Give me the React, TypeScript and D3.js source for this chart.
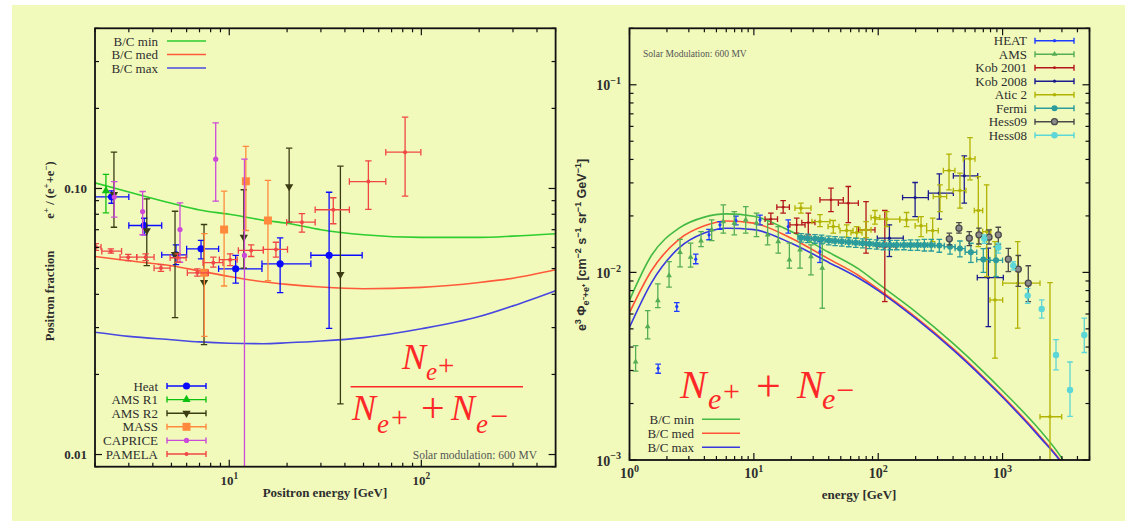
import React from 'react';
import * as d3 from 'd3';

// rows: [energy, value, energy low, energy high, value low, value high]
// energy low/high = null -> no horizontal bar

// ---------- left panel : positron fraction ----------
const fracModelE = [2, 3, 5, 7, 10, 15, 20, 30, 50, 100, 200, 300, 500];
const fracMin = [0.105, 0.097, 0.088, 0.083, 0.08, 0.076, 0.074, 0.07, 0.067, 0.0655, 0.0655, 0.0662, 0.0676];
const fracMed = [0.0555, 0.0535, 0.0512, 0.049, 0.0467, 0.0446, 0.0436, 0.0426, 0.042, 0.0425, 0.0443, 0.046, 0.0495];
const fracMax = [0.0288, 0.0278, 0.027, 0.0265, 0.0262, 0.0261, 0.0263, 0.0267, 0.0275, 0.0297, 0.033, 0.0362, 0.0413];

const heatFrac = [
  [2.44, 0.093, 2.0, 3.0, 0.088, 0.098],
  [3.61, 0.0726, 3.0, 4.45, 0.067, 0.0773],
  [5.28, 0.0563, 4.45, 6.0, 0.0517, 0.0614],
  [7.13, 0.0593, 6.0, 8.8, 0.0544, 0.0638],
  [10.8, 0.0499, 8.8, 14.8, 0.0441, 0.056],
  [18.4, 0.0521, 14.8, 26.6, 0.0406, 0.0652],
  [33.1, 0.0561, 26.6, 49.2, 0.0298, 0.0968],
];
const amsR1Frac = [[2.28, 0.098, null, null, 0.081, 0.113]];
const amsR2Frac = [
  [2.51, 0.095, null, null, 0.0715, 0.137],
  [3.72, 0.0695, null, null, 0.0513, 0.0914],
  [5.22, 0.0565, null, null, 0.0327, 0.0821],
  [7.39, 0.0444, null, null, 0.0259, 0.0732],
  [11.9, 0.0656, null, null, 0.0502, 0.0989],
  [20.5, 0.1017, null, null, 0.0747, 0.1417],
  [37.9, 0.0475, null, null, 0.0155, 0.1213],
];
const massFrac = [
  [7.42, 0.0482, null, null, 0.0278, 0.0676],
  [9.4, 0.0701, null, null, 0.043, 0.0977],
  [12.2, 0.1065, null, null, 0.0695, 0.1439],
  [15.9, 0.0758, null, null, 0.045, 0.1072],
];
const capriceFrac = [
  [2.52, 0.0928, null, null, 0.078, 0.1062],
  [3.54, 0.0819, null, null, 0.067, 0.0974],
  [5.54, 0.0701, null, null, 0.0528, 0.0883],
  [8.5, 0.1289, null, null, 0.0896, 0.1765],
  [12.0, 0.056, null, null, 0.001, 0.1289],
];
const pamelaFrac = [
  [2.02, 0.0602, 1.85, 2.15, 0.0585, 0.062],
  [2.42, 0.0581, 2.17, 2.75, 0.0571, 0.0593],
  [2.98, 0.0552, 2.7, 3.3, 0.0536, 0.0565],
  [3.67, 0.0552, 3.3, 4.06, 0.0536, 0.0568],
  [4.41, 0.0502, 4.06, 4.92, 0.0488, 0.0517],
  [5.39, 0.0549, 4.92, 5.96, 0.0528, 0.0568],
  [6.82, 0.0482, 6.05, 7.78, 0.0468, 0.0499],
  [8.26, 0.0526, 7.3, 9.28, 0.0506, 0.0552],
  [10.1, 0.054, 8.88, 11.0, 0.0513, 0.0568],
  [13.0, 0.0585, 11.15, 15.05, 0.0555, 0.0614],
  [17.5, 0.059, 15.05, 20.1, 0.0552, 0.0628],
  [23.9, 0.0747, 19.9, 28.0, 0.0685, 0.0804],
  [34.8, 0.0832, 28.0, 42.2, 0.0737, 0.0923],
  [53.0, 0.1062, 42.2, 65.3, 0.0834, 0.127],
  [82.3, 0.1369, 65.3, 99.4, 0.0936, 0.1854],
];

// ---------- right panel : e+ + e- flux ----------
const fluxModelE = [1, 1.5, 2.5, 4, 6, 10, 20, 40, 70, 100, 200, 400, 700, 1000, 2000, 3000, 3500];
const fluxMin = [0.0071, 0.0123, 0.0172, 0.0197, 0.0205, 0.0199, 0.0165, 0.0128, 0.0104, 0.0087, 0.00616, 0.00418, 0.00296, 0.00234, 0.00144, 0.00102, 0.00086];
const fluxMed = [0.0061, 0.0102, 0.015, 0.0177, 0.0188, 0.0183, 0.0152, 0.0118, 0.0096, 0.00813, 0.00577, 0.00392, 0.00277, 0.00219, 0.00134, 0.00097, 0.00083];
const fluxMax = [0.0051, 0.0088, 0.0135, 0.0162, 0.0172, 0.0169, 0.0143, 0.0113, 0.0093, 0.008, 0.00568, 0.00386, 0.00273, 0.00216, 0.00132, 0.00096, 0.00082];

const heatFlux = [
  [1.7, 0.00308, null, null, 0.0029, 0.00324],
  [2.4, 0.00657, null, null, 0.0062, 0.0069],
  [3.41, 0.01176, null, null, 0.01112, 0.01252],
  [4.36, 0.01585, null, null, 0.01493, 0.01697],
  [5.34, 0.01792, null, null, 0.01697, 0.01866],
  [7.18, 0.0189, null, null, 0.01792, 0.01995],
  [11.2, 0.01905, null, null, 0.01792, 0.0202],
  [18.9, 0.01755, null, null, 0.01618, 0.01905],
  [34.0, 0.0129, null, null, 0.01129, 0.0146],
];
const amsFlux = [
  [1.12, 0.00334, null, null, 0.00298, 0.00407],
  [1.4, 0.00514, null, null, 0.00442, 0.00626],
  [1.69, 0.00707, null, null, 0.00649, 0.00868],
  [2.08, 0.00961, null, null, 0.00834, 0.01142],
  [2.55, 0.0128, null, null, 0.0107, 0.015],
  [3.1, 0.01205, null, null, 0.01066, 0.01431],
  [3.76, 0.01472, null, null, 0.01373, 0.0165],
  [4.58, 0.01685, null, null, 0.01477, 0.01905],
  [5.68, 0.01866, null, null, 0.01618, 0.0229],
  [6.96, 0.0183, null, null, 0.01585, 0.0211],
  [8.6, 0.01905, null, null, 0.01618, 0.02244],
  [10.5, 0.0183, null, null, 0.01552, 0.0207],
  [12.9, 0.01585, null, null, 0.01402, 0.01905],
  [15.7, 0.0146, null, null, 0.01266, 0.01755],
  [19.3, 0.01166, null, null, 0.01053, 0.01431],
  [23.5, 0.01318, null, null, 0.01053, 0.01552],
  [28.8, 0.01215, null, null, 0.0097, 0.01402],
  [35.5, 0.01053, null, null, 0.00644, 0.01431],
];
const kob2001Flux = [
  [13.7, 0.01922, 12.3, 15.5, 0.01807, 0.0207],
  [17.2, 0.02227, 15.3, 19.3, 0.0207, 0.02415],
  [22.1, 0.01792, 19.5, 25.8, 0.01618, 0.01946],
  [27.4, 0.01843, 24.3, 31.0, 0.01585, 0.0207],
  [41.7, 0.02435, 34.0, 52.4, 0.0211, 0.0281],
  [57.5, 0.02339, 47.8, 69.2, 0.01843, 0.0287],
  [79.8, 0.01685, 69.2, 94.2, 0.01266, 0.02385],
  [113, 0.01373, 97.8, 139, 0.00699, 0.02137],
];
const kob2008Flux = [
  [123, 0.01521, 98.3, 159, 0.01215, 0.01792],
  [198, 0.02506, 157, 253, 0.01984, 0.03013],
  [310, 0.02645, 253, 402, 0.01922, 0.0335],
  [492, 0.03271, 402, 631, 0.02339, 0.04181],
  [768, 0.00938, 626, 1014, 0.00514, 0.01346],
];
const atic2Flux = [
  [23.9, 0.022, 21.4, 28.8, 0.0207, 0.02339],
  [34.0, 0.01866, 29.3, 40.9, 0.01755, 0.0203],
  [43.5, 0.01755, 39.5, 48.4, 0.01618, 0.0189],
  [55.8, 0.0167, 49.3, 62.7, 0.0154, 0.01792],
  [67.1, 0.0163, 60.4, 74.1, 0.01522, 0.01755],
  [79.8, 0.01685, 71.4, 87.5, 0.01533, 0.01866],
  [94.2, 0.0196, 87.5, 103, 0.01807, 0.02137],
  [117, 0.01922, 94.2, 149, 0.01755, 0.0211],
  [169, 0.01905, 149, 210, 0.01755, 0.02085],
  [221, 0.0177, 198, 245, 0.01552, 0.01984],
  [274, 0.0167, 245, 304, 0.0146, 0.01946],
  [314, 0.02536, 277, 355, 0.0211, 0.02928],
  [371, 0.0349, 334, 414, 0.02754, 0.0427],
  [454, 0.0273, 402, 508, 0.022, 0.0338],
  [547, 0.0403, 483, 600, 0.03113, 0.0523],
  [638, 0.02137, 592, 692, 0.01373, 0.0324],
  [745, 0.0165, 692, 803, 0.0095, 0.02928],
  [869, 0.00713, 792, 1002, 0.00349, 0.0146],
  [1323, 0.00876, 1002, 2000, 0.00504, 0.0146],
  [2406, 0.0017, 2000, 2988, 0.0002, 0.00882],
];
const fermiFlux = [
  [24, 0.0153, 22.6, 25.5, 0.0145, 0.0161],
  [27, 0.0152, 25.5, 28.9, 0.0144, 0.016],
  [31, 0.0151, 28.9, 32.9, 0.0143, 0.0159],
  [35, 0.015, 32.9, 37.4, 0.0142, 0.0158],
  [40, 0.0148, 37.4, 42.5, 0.014, 0.0156],
  [45, 0.0147, 42.5, 48.0, 0.0139, 0.0155],
  [51, 0.0146, 48.0, 54.5, 0.0138, 0.0154],
  [58, 0.0145, 54.5, 62.0, 0.0137, 0.0153],
  [66, 0.0144, 62.0, 70.4, 0.0136, 0.0152],
  [75, 0.0143, 70.4, 80.0, 0.0135, 0.0151],
  [85, 0.0142, 80.0, 91.0, 0.0134, 0.015],
  [97, 0.0141, 91.0, 103, 0.0133, 0.0149],
  [110, 0.014, 103, 117, 0.0132, 0.0148],
  [125, 0.014, 117, 133, 0.0132, 0.0148],
  [141, 0.014, 133, 151, 0.0132, 0.0148],
  [161, 0.014, 151, 171, 0.0132, 0.0148],
  [182, 0.014, 171, 194, 0.0131, 0.0149],
  [207, 0.014, 194, 220, 0.0131, 0.0149],
  [235, 0.014, 220, 250, 0.013, 0.015],
  [267, 0.014, 250, 285, 0.013, 0.015],
  [310, 0.0139, 285, 340, 0.0128, 0.015],
  [378, 0.0137, 340, 415, 0.0125, 0.0149],
  [454, 0.0134, 415, 500, 0.0121, 0.0147],
  [556, 0.0128, 500, 620, 0.0113, 0.0143],
  [700, 0.0117, 620, 790, 0.01, 0.0134],
  [886, 0.0116, 790, 1000, 0.0095, 0.0137],
];
const hess09Flux = [
  [373, 0.01509, null, null, 0.01402, 0.01618],
  [446, 0.0172, null, null, 0.01618, 0.01843],
  [540, 0.0152, null, null, 0.0139, 0.0165],
  [646, 0.01585, null, null, 0.01417, 0.0172],
  [778, 0.0154, null, null, 0.01417, 0.01685],
  [924, 0.01585, null, null, 0.01417, 0.0174],
  [1112, 0.01176, null, null, 0.0101, 0.01342],
  [1338, 0.0104, null, null, 0.00843, 0.0123],
  [1610, 0.00876, null, null, 0.00699, 0.01085],
];
const hess08Flux = [
  [713, 0.01509, null, null, 0.0143, 0.01585],
  [924, 0.01356, null, null, 0.01266, 0.0143],
  [1219, 0.01087, null, null, 0.01031, 0.0114],
  [1592, 0.00752, null, null, 0.00683, 0.0082],
  [2064, 0.00639, null, null, 0.00571, 0.00713],
  [2689, 0.00363, null, null, 0.00302, 0.00438],
  [3484, 0.00236, null, null, 0.00171, 0.00333],
  [4540, 0.00464, null, null, 0.00374, 0.00571],
];

const INK = '#2e2e2e';
const FORMULA = '#ff2828';

const fracSeries = [
  { name: 'Heat', rows: heatFrac, color: '#0a0aff', mark: 'circle', size: 3.6 },
  { name: 'AMS R1', rows: amsR1Frac, color: '#10c010', mark: 'triUp', size: 2.6 },
  { name: 'AMS R2', rows: amsR2Frac, color: '#3b3b14', mark: 'triDown', size: 2.6 },
  { name: 'MASS', rows: massFrac, color: '#ff8a3d', mark: 'square', size: 4 },
  { name: 'CAPRICE', rows: capriceFrac, color: '#cc4ad8', mark: 'circle', size: 2.6 },
  { name: 'PAMELA', rows: pamelaFrac, color: '#f04646', mark: 'circle', size: 2 },
];
const fracModels = [
  { name: 'B/C min', vals: fracMin, color: '#2ecc2e' },
  { name: 'B/C med', vals: fracMed, color: '#ff5a3a' },
  { name: 'B/C max', vals: fracMax, color: '#4848e0' },
];
const fluxSeries = [
  { name: 'HEAT', rows: heatFlux, color: '#1e3cff', mark: 'circle', size: 1.6 },
  { name: 'AMS', rows: amsFlux, color: '#55ad55', mark: 'triUp', size: 1.8 },
  { name: 'Kob 2001', rows: kob2001Flux, color: '#b3151c', mark: 'circle', size: 1.4 },
  { name: 'Kob 2008', rows: kob2008Flux, color: '#1b1b8e', mark: 'circle', size: 1.6 },
  { name: 'Atic 2', rows: atic2Flux, color: '#b2b200', mark: 'circle', size: 1.8 },
  { name: 'Fermi', rows: fermiFlux, color: '#2b9b9b', mark: 'circle', size: 3 },
  { name: 'Hess09', rows: hess09Flux, color: '#4a4a4a', mark: 'ring', size: 3 },
  { name: 'Hess08', rows: hess08Flux, color: '#5cd6d6', mark: 'circle', size: 3.2 },
];
const fluxModels = [
  { name: 'B/C min', vals: fluxMin, color: '#44b944' },
  { name: 'B/C med', vals: fluxMed, color: '#ff5236' },
  { name: 'B/C max', vals: fluxMax, color: '#3838de' },
];

function logTicks(lo, hi) {
  const out = [];
  for (let d = Math.floor(Math.log10(lo)); d <= Math.ceil(Math.log10(hi)); d++) {
    for (let m = 1; m < 10; m++) {
      const v = m * Math.pow(10, d);
      if (v >= lo * 0.999 && v <= hi * 1.001) out.push({ v, major: m === 1 });
    }
  }
  return out;
}

function Mark({ kind, x, y, size, color }) {
  if (kind === 'ring') {
    return <circle cx={x} cy={y} r={size} fill="#8c8c8c" stroke={color} strokeWidth={1.3} />;
  }
  const type = kind === 'square' ? d3.symbolSquare : kind.startsWith('tri') ? d3.symbolTriangle : d3.symbolCircle;
  const area = kind === 'square' ? 4 * size * size : Math.PI * size * size * (kind.startsWith('tri') ? 1.4 : 1);
  const d = d3.symbol().type(type).size(area)();
  const rot = kind === 'triDown' ? ' rotate(180)' : '';
  return <path d={d} transform={`translate(${x},${y})${rot}`} fill={color} stroke="none" />;
}

function ErrSeries({ s, x, y, cap = 3 }) {
  return (
    <g stroke={s.color} strokeWidth={1.3} fill="none">
      {s.rows.map((r, i) => {
        const [e, v, elo, ehi, vlo, vhi] = r;
        const cx = x(e);
        const cy = y(v);
        const yt = y(vhi);
        const yb = y(vlo);
        return (
          <g key={i}>
            <line x1={cx} x2={cx} y1={yt} y2={yb} />
            <line x1={cx - cap} x2={cx + cap} y1={yt} y2={yt} />
            <line x1={cx - cap} x2={cx + cap} y1={yb} y2={yb} />
            {elo != null && (
              <>
                <line x1={x(elo)} x2={x(ehi)} y1={cy} y2={cy} />
                <line x1={x(elo)} x2={x(elo)} y1={cy - cap} y2={cy + cap} />
                <line x1={x(ehi)} x2={x(ehi)} y1={cy - cap} y2={cy + cap} />
              </>
            )}
            <Mark kind={s.mark} x={cx} y={cy} size={s.size} color={s.color} />
          </g>
        );
      })}
    </g>
  );
}

function Frame({ x, y }) {
  const [x0, x1] = x.range();
  const [y1, y0] = y.range();
  const xt = logTicks(...x.domain());
  const yt = logTicks(...y.domain());
  return (
    <g stroke="#111" strokeWidth={1.2}>
      {xt.map((t, i) => {
        const px = x(t.v);
        const len = t.major ? 7 : 4;
        return (
          <g key={'x' + i}>
            <line x1={px} x2={px} y1={y1} y2={y1 - len} />
            <line x1={px} x2={px} y1={y0} y2={y0 + len} />
          </g>
        );
      })}
      {yt.map((t, i) => {
        const py = y(t.v);
        const len = t.major ? 7 : 4;
        return (
          <g key={'y' + i}>
            <line x1={x0} x2={x0 + len} y1={py} y2={py} />
            <line x1={x1} x2={x1 - len} y1={py} y2={py} />
          </g>
        );
      })}
      <rect x={x0} y={y0} width={x1 - x0} height={y1 - y0} fill="none" strokeWidth={1.8} />
    </g>
  );
}

function ModelLines({ models, xs, x, y, clip }) {
  const line = d3.line().x((d) => x(d[0])).y((d) => y(d[1])).curve(d3.curveMonotoneX);
  return (
    <g clipPath={`url(#${clip})`} fill="none">
      {models.map((m) => (
        <path key={m.name} d={line(xs.map((e, i) => [e, m.vals[i]]))} stroke={m.color} strokeWidth={1.6} />
      ))}
    </g>
  );
}

function LegendRow({ label, color, y, tx, lx0, lx1, mark, size, fontSize = 13 }) {
  const cap = 3;
  return (
    <g>
      <text x={tx} y={y + 4.5} textAnchor="end" fontSize={fontSize} fill={INK}>{label}</text>
      <g stroke={color} strokeWidth={1.4}>
        <line x1={lx0} x2={lx1} y1={y} y2={y} />
        {mark && <line x1={lx0} x2={lx0} y1={y - cap} y2={y + cap} />}
        {mark && <line x1={lx1} x2={lx1} y1={y - cap} y2={y + cap} />}
      </g>
      {mark && <Mark kind={mark} x={(lx0 + lx1) / 2} y={y} size={size} color={color} />}
    </g>
  );
}

function Sup({ base, exp, x, y, anchor, size = 13 }) {
  return (
    <text x={x} y={y} textAnchor={anchor} fontSize={size} fontWeight="bold" fill={INK}>
      {base}
      <tspan fontSize={size * 0.72} dy={-size * 0.45}>{exp}</tspan>
    </text>
  );
}

function FractionPanel() {
  const x = d3.scaleLog().domain([2, 500]).range([95, 555.6]);
  const y = d3.scaleLog().domain([0.009, 0.4]).range([466.7, 28.3]);
  const [x0, x1] = x.range();
  const [y1, y0] = y.range();
  return (
    <g>
      <clipPath id="clipFrac">
        <rect x={x0} y={y0} width={x1 - x0} height={y1 - y0} />
      </clipPath>
      <ModelLines models={fracModels} xs={fracModelE} x={x} y={y} clip="clipFrac" />
      <g clipPath="url(#clipFrac)">
        {fracSeries.map((s) => (
          <ErrSeries key={s.name} s={s} x={x} y={y} cap={3.2} />
        ))}
      </g>
      <Frame x={x} y={y} />

      {[0.1, 0.01].map((v) => (
        <text key={v} x={87} y={y(v) + 4.5} textAnchor="end" fontSize={13} fontWeight="bold" fill={INK}>
          {v === 0.1 ? '0.10' : '0.01'}
        </text>
      ))}
      {[10, 100].map((v) => (
        <Sup key={v} base="10" exp={String(Math.log10(v))} x={x(v)} y={485} anchor="middle" />
      ))}
      <text x={325} y={497} textAnchor="middle" fontSize={13} fontWeight="bold" fill={INK}>
        Positron energy [GeV]
      </text>
      <g transform="translate(54,296) rotate(-90)">
        <text textAnchor="middle" fontSize={12.5} fontWeight="bold" fill={INK}>Positron fraction</text>
      </g>
      <g transform="translate(54,190) rotate(-90)">
        <text textAnchor="middle" fontSize={12.5} fontWeight="bold" fill={INK}>
          e<tspan fontSize={9} dy={-5}>+</tspan>
          <tspan dy={5}> / (e</tspan>
          <tspan fontSize={9} dy={-5}>+</tspan>
          <tspan dy={5}>+e</tspan>
          <tspan fontSize={9} dy={-5}>−</tspan>
          <tspan dy={5}>)</tspan>
        </text>
      </g>

      {fracModels.map((m, i) => (
        <LegendRow key={m.name} label={m.name} color={m.color} y={41 + i * 13.5} tx={158} lx0={167} lx1={206} />
      ))}
      {fracSeries.map((s, i) => (
        <LegendRow key={s.name} label={s.name} color={s.color} y={386 + i * 13.6} tx={158} lx0={167} lx1={206} mark={s.mark} size={s.size} />
      ))}

      <text x={537} y={459} textAnchor="end" fontSize={11.5} fill="#555">Solar modulation: 600 MV</text>

      <line x1={350.6} x2={523} y1={386.7} y2={386.7} stroke={FORMULA} strokeWidth={1.6} />
      <text fill={FORMULA} fontSize={36}>
        <tspan x={402} y={369} fontStyle="italic">N</tspan>
        <tspan x={426} y={380} fontSize={25} fontStyle="italic">e</tspan>
        <tspan x={438} y={375} fontSize={29}>+</tspan>
      </text>
      <text fill={FORMULA} fontSize={36}>
        <tspan x={352} y={420} fontStyle="italic">N</tspan>
        <tspan x={377} y={433} fontSize={27} fontStyle="italic">e</tspan>
        <tspan x={391} y={427} fontSize={30}>+</tspan>
        <tspan x={421} y={422} fontSize={42}>+</tspan>
        <tspan x={451} y={420} fontStyle="italic">N</tspan>
        <tspan x={476} y={433} fontSize={27} fontStyle="italic">e</tspan>
        <tspan x={490} y={427} fontSize={32}>−</tspan>
      </text>
    </g>
  );
}

function FluxPanel() {
  const x = d3.scaleLog().domain([1, 5000]).range([629.5, 1089.5]);
  const y = d3.scaleLog().domain([0.001, 0.2]).range([460, 28.3]);
  const [x0, x1] = x.range();
  const [y1, y0] = y.range();
  return (
    <g>
      <clipPath id="clipFlux">
        <rect x={x0} y={y0} width={x1 - x0} height={y1 - y0} />
      </clipPath>
      <ModelLines models={fluxModels} xs={fluxModelE} x={x} y={y} clip="clipFlux" />
      <g clipPath="url(#clipFlux)">
        {fluxSeries.map((s) => (
          <ErrSeries key={s.name} s={s} x={x} y={y} cap={2.8} />
        ))}
      </g>
      <Frame x={x} y={y} />

      {[0.1, 0.01, 0.001].map((v) => (
        <Sup key={v} base="10" exp={'−' + String(-Math.round(Math.log10(v)))} x={621} y={y(v) + 5.5} anchor="end" size={14} />
      ))}
      {[1, 10, 100, 1000].map((v) => (
        <Sup key={v} base="10" exp={String(Math.round(Math.log10(v)))} x={x(v)} y={478} anchor="middle" size={14} />
      ))}
      <text x={859} y={499} textAnchor="middle" fontSize={13} fontWeight="bold" fill={INK}>energy [GeV]</text>
      <g transform="translate(586,245) rotate(-90)">
        <text textAnchor="middle" fontSize={12.5} fontWeight="bold" fill={INK} fontFamily="'Liberation Sans', sans-serif">
          e<tspan fontSize={9} dy={-5}>3</tspan>
          <tspan dy={5}> Φ</tspan>
          <tspan fontSize={9} dy={3}>e⁻+e⁺</tspan>
          <tspan dy={-3}> [cm</tspan>
          <tspan fontSize={9} dy={-5}>−2</tspan>
          <tspan dy={5}> s</tspan>
          <tspan fontSize={9} dy={-5}>−1</tspan>
          <tspan dy={5}> sr</tspan>
          <tspan fontSize={9} dy={-5}>−1</tspan>
          <tspan dy={5}> GeV</tspan>
          <tspan fontSize={9} dy={-5}>−1</tspan>
          <tspan dy={5}>]</tspan>
        </text>
      </g>

      <text x={643} y={57} fontSize={9.5} fill="#555">Solar Modulation: 600 MV</text>

      {fluxSeries.map((s, i) => (
        <LegendRow key={s.name} label={s.name} color={s.color} y={40.7 + i * 13.5} tx={1027} lx0={1035} lx1={1074} mark={s.mark} size={s.size} />
      ))}
      {fluxModels.map((m, i) => (
        <LegendRow key={m.name} label={m.name} color={m.color} y={419.3 + i * 14} tx={694} lx0={702} lx1={740} />
      ))}

      <text fill={FORMULA} fontSize={40}>
        <tspan x={680} y={398} fontStyle="italic">N</tspan>
        <tspan x={708} y={409} fontSize={30} fontStyle="italic">e</tspan>
        <tspan x={723} y={401} fontSize={30}>+</tspan>
        <tspan x={756} y={401} fontSize={44}>+</tspan>
        <tspan x={797} y={398} fontStyle="italic">N</tspan>
        <tspan x={822} y={409} fontSize={30} fontStyle="italic">e</tspan>
        <tspan x={836} y={401} fontSize={32}>−</tspan>
      </text>
    </g>
  );
}

export default function App() {
  return (
    <svg
      width={1125}
      height={521}
      style={{ position: 'absolute', left: 0, top: 0 }}
      fontFamily="'Liberation Serif', serif"
    >
      <rect width={1125} height={521} fill="#ffffff" />
      <rect x={12} y={5} width={1113} height={516} fill="#f1fabb" />
      <FractionPanel />
      <FluxPanel />
    </svg>
  );
}
